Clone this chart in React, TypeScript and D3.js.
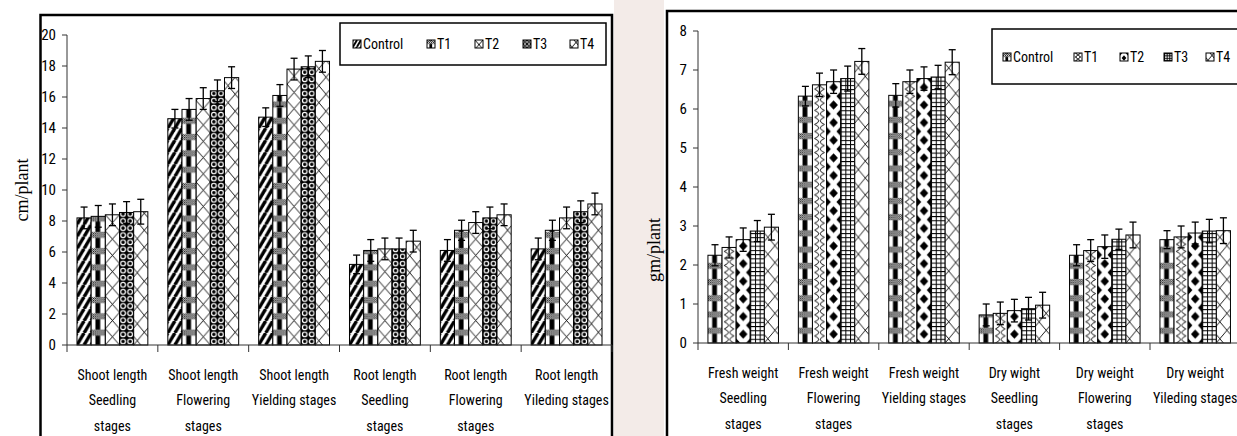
import React from 'react';
import * as d3 from 'd3';

// ---------- DATA ----------
const seriesNames = ['Control', 'T1', 'T2', 'T3', 'T4'];

const leftCategories = [
  ['Shoot length', 'Seedling', 'stages'],
  ['Shoot length', 'Flowering', 'stages'],
  ['Shoot length', 'Yielding stages'],
  ['Root length', 'Seedling', 'stages'],
  ['Root length', 'Flowering', 'stages'],
  ['Root length', 'Yileding stages'],
];
const leftControl = [8.2, 14.6, 14.7, 5.2, 6.1, 6.2];
const leftT1 = [8.3, 15.2, 16.1, 6.1, 7.4, 7.4];
const leftT2 = [8.4, 15.9, 17.8, 6.2, 7.9, 8.2];
const leftT3 = [8.55, 16.4, 17.95, 6.2, 8.2, 8.6];
const leftT4 = [8.6, 17.25, 18.3, 6.7, 8.4, 9.1];
const leftErrControl = [0.7, 0.6, 0.6, 0.6, 0.7, 0.7];
const leftErrT1 = [0.7, 0.7, 0.7, 0.7, 0.65, 0.65];
const leftErrT2 = [0.7, 0.7, 0.7, 0.7, 0.7, 0.7];
const leftErrT3 = [0.7, 0.7, 0.7, 0.7, 0.7, 0.7];
const leftErrT4 = [0.8, 0.7, 0.7, 0.7, 0.7, 0.7];
const leftTicks = [0, 2, 4, 6, 8, 10, 12, 14, 16, 18, 20];

const rightCategories = [
  ['Fresh weight', 'Seedling', 'stages'],
  ['Fresh weight', 'Flowering', 'stages'],
  ['Fresh weight', 'Yielding stages'],
  ['Dry wight', 'Seedling', 'stages'],
  ['Dry weight', 'Flowering', 'stages'],
  ['Dry weight', 'Yileding stages'],
];
const rightControl = [2.25, 6.33, 6.35, 0.72, 2.25, 2.65];
const rightT1 = [2.45, 6.62, 6.7, 0.76, 2.37, 2.72];
const rightT2 = [2.65, 6.7, 6.78, 0.83, 2.47, 2.82];
const rightT3 = [2.87, 6.78, 6.82, 0.88, 2.66, 2.87];
const rightT4 = [2.97, 7.22, 7.2, 0.97, 2.77, 2.88];
const rightErrControl = [0.27, 0.25, 0.3, 0.28, 0.27, 0.23];
const rightErrT1 = [0.27, 0.3, 0.3, 0.29, 0.28, 0.28];
const rightErrT2 = [0.3, 0.3, 0.3, 0.29, 0.3, 0.28];
const rightErrT3 = [0.27, 0.32, 0.3, 0.29, 0.26, 0.3];
const rightErrT4 = [0.33, 0.33, 0.32, 0.33, 0.33, 0.33];
const rightTicks = [0, 1, 2, 3, 4, 5, 6, 7, 8];

// ---------- STYLE ----------
const NARROW = "'Liberation Sans Narrow','Arial Narrow','Roboto Condensed',sans-serif";
const SERIF = "'Liberation Serif','Times New Roman',serif";

type Kind = 'stripe' | 'band' | 'cross' | 'dots' | 'zig' | 'wave' | 'diamond' | 'grid';

function patternTile(kind: Kind, w: number) {
  switch (kind) {
    case 'stripe': {
      const tw = w / 2, th = w * 0.85;
      return {
        width: tw,
        height: th,
        content: (
          <g stroke="#000" strokeWidth={tw * 0.48} strokeLinecap="butt">
            <line x1={-tw} y1={th} x2={0} y2={0} />
            <line x1={0} y1={th} x2={tw} y2={0} />
            <line x1={tw} y1={th} x2={2 * tw} y2={0} />
          </g>
        ),
      };
    }
    case 'band': {
      const th = Math.max(8, w * 1.15);
      return {
        width: w,
        height: th,
        content: (
          <g>
            <rect x={w * 0.3} y={0} width={w * 0.34} height={th} fill="#000" />
            <rect x={0} y={th * 0.05} width={w} height={th * 0.38} fill="url(#chk)" />
          </g>
        ),
      };
    }
    case 'cross': {
      const th = w * 1.15;
      return {
        width: w,
        height: th,
        content: (
          <g stroke="#000" strokeWidth={0.9}>
            <line x1={0} y1={0} x2={w} y2={th} />
            <line x1={w} y1={0} x2={0} y2={th} />
          </g>
        ),
      };
    }
    case 'dots': {
      const t = w / 2;
      return {
        width: t,
        height: t,
        content: (
          <g>
            <rect width={t} height={t} fill="#000" />
            <circle cx={t / 2} cy={t / 2} r={t * 0.42} fill="#fff" />
            <circle cx={t / 2} cy={t / 2} r={t * 0.24} fill="#000" />
          </g>
        ),
      };
    }
    case 'zig': {
      const th = w * 1.2;
      return {
        width: w,
        height: th,
        content: (
          <g stroke="#000" strokeWidth={0.9}>
            <line x1={0} y1={th} x2={w} y2={0} />
            <line x1={0} y1={th * 0.5} x2={w * 0.5} y2={th} />
            <line x1={w * 0.5} y1={0} x2={w} y2={th * 0.5} />
          </g>
        ),
      };
    }
    case 'wave': {
      const th = w * 1.0;
      return {
        width: w,
        height: th,
        content: (
          <g stroke="#000" strokeWidth={0.9} fill="none">
            <path d={`M${w * 0.15},0 Q${w * 0.75},${th * 0.25} ${w * 0.15},${th * 0.5} Q${w * 0.75},${th * 0.75} ${w * 0.15},${th}`} />
            <path d={`M${w * 0.85},0 Q${w * 0.25},${th * 0.25} ${w * 0.85},${th * 0.5} Q${w * 0.25},${th * 0.75} ${w * 0.85},${th}`} />
          </g>
        ),
      };
    }
    case 'diamond': {
      const th = w * 1.25;
      const hw = w * 0.3, hh = th * 0.27;
      const dia = (cx: number, cy: number) =>
        `${cx},${cy - hh} ${cx + hw},${cy} ${cx},${cy + hh} ${cx - hw},${cy}`;
      return {
        width: w,
        height: th,
        content: (
          <g fill="#000">
            <polygon points={dia(w / 2, th / 2)} />
            <polygon points={dia(0, 0)} />
            <polygon points={dia(w, 0)} />
            <polygon points={dia(0, th)} />
            <polygon points={dia(w, th)} />
          </g>
        ),
      };
    }
    case 'grid': {
      const t = w / 3;
      return {
        width: t,
        height: t * 0.9,
        content: (
          <g stroke="#000" strokeWidth={1}>
            <line x1={0.5} y1={0} x2={0.5} y2={t} />
            <line x1={0} y1={0.5} x2={t} y2={0.5} />
          </g>
        ),
      };
    }
  }
}

function Pattern({ id, kind, x, y, w }: { id: string; kind: Kind; x: number; y: number; w: number }) {
  const tile = patternTile(kind, w);
  return (
    <pattern id={id} patternUnits="userSpaceOnUse" x={x} y={y} width={tile.width} height={tile.height}>
      <rect width={tile.width} height={tile.height} fill="#fff" />
      {tile.content}
    </pattern>
  );
}

interface ChartProps {
  pid: string;
  categories: string[][];
  values: number[][];
  errors: number[][];
  kinds: Kind[];
  ticks: number[];
  yMax: number;
  axisX: number;
  axisEnd: number;
  yZero: number;
  yTopPx: number;
  frame: { x: number; y: number; w: number; h: number };
  legend: { x: number; y: number; w: number; h: number; itemX: number[]; cy: number };
  yLabel: string;
  yLabelX: number;
  yLabelY: number;
  labelY: number[];
}

function Chart(p: ChartProps) {
  const y = d3.scaleLinear().domain([0, p.yMax]).range([p.yZero, p.yTopPx]);
  const x0 = d3
    .scaleBand<number>()
    .domain(d3.range(p.categories.length))
    .range([p.axisX, p.axisEnd])
    .paddingInner(0)
    .paddingOuter(0);
  const x1 = d3
    .scaleBand<number>()
    .domain(d3.range(seriesNames.length))
    .range([0, x0.bandwidth()])
    .paddingInner(0)
    .paddingOuter(0.705);
  const bw = x1.bandwidth();

  const defs: React.ReactNode[] = [];
  const bars: React.ReactNode[] = [];
  const errs: React.ReactNode[] = [];
  p.categories.forEach((_, ci) => {
    seriesNames.forEach((_, si) => {
      const v = p.values[si][ci];
      const e = p.errors[si][ci];
      const bx = (x0(ci) as number) + (x1(si) as number);
      const id = `${p.pid}-b-${ci}-${si}`;
      defs.push(<Pattern key={id} id={id} kind={p.kinds[si]} x={bx} y={p.yZero} w={bw} />);
      bars.push(
        <rect
          key={id}
          x={bx}
          y={y(v)}
          width={bw}
          height={p.yZero - y(v)}
          fill={`url(#${id})`}
          stroke="#000"
          strokeWidth={1}
        />
      );
      const cx = bx + bw / 2;
      errs.push(
        <g key={id + 'e'} stroke="#000" strokeWidth={1.3}>
          <line x1={cx} x2={cx} y1={y(v - e)} y2={y(v + e)} />
          <line x1={cx - 3.5} x2={cx + 3.5} y1={y(v + e)} y2={y(v + e)} />
          <line x1={cx - 3.5} x2={cx + 3.5} y1={y(v - e)} y2={y(v - e)} />
        </g>
      );
    });
  });

  const iconW = 8;
  seriesNames.forEach((_, si) => {
    defs.push(
      <Pattern
        key={`${p.pid}-lg-${si}`}
        id={`${p.pid}-lg-${si}`}
        kind={p.kinds[si]}
        x={p.legend.itemX[si]}
        y={p.legend.cy - 4}
        w={iconW}
      />
    );
  });

  const boundaries = d3.range(p.categories.length + 1).map((i) =>
    i < p.categories.length ? (x0(i) as number) : p.axisEnd
  );

  return (
    <g>
      <defs>{defs}</defs>
      <rect x={p.frame.x} y={p.frame.y} width={p.frame.w} height={p.frame.h} fill="#fff" stroke="#000" strokeWidth={2.5} />
      {/* y axis */}
      <line x1={p.axisX} x2={p.axisX} y1={p.yZero} y2={y(p.yMax)} stroke="#333" strokeWidth={1} />
      {p.ticks.map((t) => (
        <g key={t}>
          <line x1={p.axisX - 5} x2={p.axisX} y1={y(t)} y2={y(t)} stroke="#333" strokeWidth={1} />
          <text
            x={p.axisX - 11}
            y={y(t)}
            textAnchor="end"
            dominantBaseline="central"
            fontFamily={NARROW}
            fontSize={15}
            fill="#000"
          >
            {t}
          </text>
        </g>
      ))}
      {bars}
      {errs}
      {/* x axis */}
      <line x1={p.axisX} x2={p.axisEnd} y1={p.yZero} y2={p.yZero} stroke="#333" strokeWidth={1} />
      {boundaries.map((bx, i) => (
        <line key={i} x1={bx} x2={bx} y1={p.yZero} y2={p.yZero + 7} stroke="#333" strokeWidth={1} />
      ))}
      {p.categories.map((lines, ci) => (
        <text
          key={ci}
          x={(x0(ci) as number) + x0.bandwidth() / 2}
          textAnchor="middle"
          fontFamily={NARROW}
          fontSize={14}
          fill="#000"
        >
          {lines.map((ln, li) => (
            <tspan key={li} x={(x0(ci) as number) + x0.bandwidth() / 2} y={p.labelY[li]}>
              {ln}
            </tspan>
          ))}
        </text>
      ))}
      {/* y label */}
      <text
        transform={`translate(${p.yLabelX},${p.yLabelY}) rotate(-90)`}
        textAnchor="middle"
        dominantBaseline="central"
        fontFamily={SERIF}
        fontSize={18}
        fill="#000"
      >
        {p.yLabel}
      </text>
      {/* legend */}
      <rect x={p.legend.x} y={p.legend.y} width={p.legend.w} height={p.legend.h} fill="#fff" stroke="#000" strokeWidth={1.5} />
      {seriesNames.map((nm, si) => (
        <g key={nm}>
          <rect
            x={p.legend.itemX[si]}
            y={p.legend.cy - 4}
            width={iconW}
            height={iconW}
            fill={`url(#${p.pid}-lg-${si})`}
            stroke="#000"
            strokeWidth={1}
          />
          <text
            x={p.legend.itemX[si] + 10}
            y={p.legend.cy}
            dominantBaseline="central"
            fontFamily={NARROW}
            fontSize={14}
            fill="#000"
          >
            {nm}
          </text>
        </g>
      ))}
    </g>
  );
}

export default function App() {
  return (
    <svg
      width={1237}
      height={436}
      style={{ position: 'absolute', left: 0, top: 0, background: '#fff' }}
      xmlns="http://www.w3.org/2000/svg"
    >
      <defs>
        <pattern id="chk" patternUnits="userSpaceOnUse" width={2} height={2}>
          <rect width={2} height={2} fill="#fff" />
          <rect width={1} height={1} fill="#000" />
          <rect x={1} y={1} width={1} height={1} fill="#000" />
        </pattern>
      </defs>
      <rect width={1237} height={436} fill="#fff" />
      {/* faint background strip between the two panels */}
      <rect x={614} y={0} width={50} height={436} fill="#f3ebe8" />
      <Chart
        pid="L"
        categories={leftCategories}
        values={[leftControl, leftT1, leftT2, leftT3, leftT4]}
        errors={[leftErrControl, leftErrT1, leftErrT2, leftErrT3, leftErrT4]}
        kinds={['stripe', 'band', 'cross', 'dots', 'zig']}
        ticks={leftTicks}
        yMax={20}
        axisX={67}
        axisEnd={612}
        yZero={345}
        yTopPx={35}
        frame={{ x: 40.5, y: 15, w: 571.5, h: 440 }}
        legend={{ x: 340, y: 23, w: 266, h: 42, itemX: [353, 427, 475, 523, 570], cy: 44 }}
        yLabel="cm/plant"
        yLabelX={22}
        yLabelY={190}
        labelY={[380, 405, 431]}
      />
      <Chart
        pid="R"
        categories={rightCategories}
        values={[rightControl, rightT1, rightT2, rightT3, rightT4]}
        errors={[rightErrControl, rightErrT1, rightErrT2, rightErrT3, rightErrT4]}
        kinds={['band', 'wave', 'diamond', 'grid', 'zig']}
        ticks={rightTicks}
        yMax={8}
        axisX={698}
        axisEnd={1240.4}
        yZero={343}
        yTopPx={31}
        frame={{ x: 667, y: 11, w: 600, h: 440 }}
        legend={{ x: 992, y: 29, w: 260, h: 55, itemX: [1003, 1074, 1120, 1164, 1206], cy: 57 }}
        yLabel="gm/plant"
        yLabelX={654}
        yLabelY={250}
        labelY={[378, 403, 429]}
      />
    </svg>
  );
}
